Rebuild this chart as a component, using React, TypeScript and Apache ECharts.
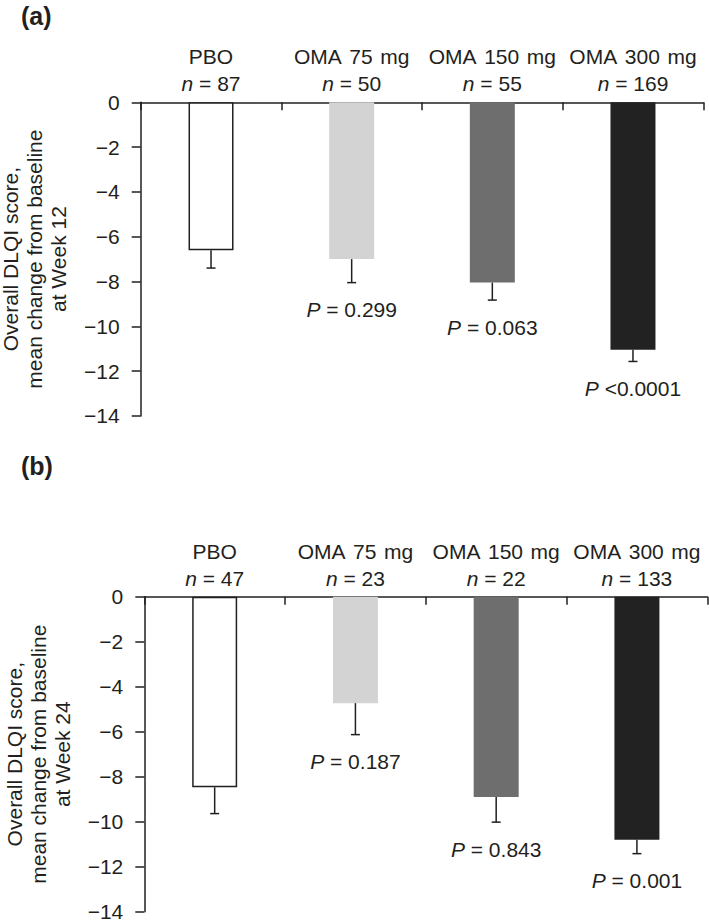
import React, { useEffect, useRef } from "react";
import * as echarts from "echarts";

const categories = ["PBO", "OMA 75 mg", "OMA 150 mg", "OMA 300 mg"];
const barColors = ["#ffffff", "#d3d3d3", "#6e6e6e", "#222222"];

const nA = [87, 50, 55, 169];
const meanA = [-6.6, -7.0, -8.05, -11.05];
const seA = [0.8, 1.05, 0.78, 0.52];
const pA = ["", "= 0.299", "= 0.063", "<0.0001"];

const nB = [47, 23, 22, 133];
const meanB = [-8.47, -4.73, -8.9, -10.8];
const seB = [1.17, 1.4, 1.12, 0.62];
const pB = ["", "= 0.187", "= 0.843", "= 0.001"];

const yTicksMin = -14;
const yTicksMax = 0;
const yInterval = 2;

const FONT = "'Liberation Sans', Arial, Helvetica, sans-serif";
const INK = "#231f20";
const FS = 21;

function xAxisFor(gridIndex: number, ns: number[]) {
  return {
    type: "category",
    gridIndex,
    position: "top",
    data: categories,
    boundaryGap: true,
    axisLine: { show: true, lineStyle: { color: INK, width: 1.5 } },
    axisTick: { show: true, inside: true, length: 8, alignWithLabel: false, lineStyle: { color: INK, width: 1.5 } },
    axisLabel: {
      interval: 0,
      margin: 5,
      fontFamily: FONT,
      fontSize: FS,
      color: INK,
      lineHeight: 27,
      formatter: (v: string, i: number) => `${v.replace(/ /g, "\u00a0\u200a")}\n{i|n} = ${ns[i]}`,
      rich: { i: { fontStyle: "italic", fontFamily: FONT, fontSize: FS, color: INK, lineHeight: 27 } },
    },
  };
}

function yAxisFor(gridIndex: number, week: number) {
  return {
    type: "value",
    gridIndex,
    min: yTicksMin,
    max: yTicksMax,
    interval: yInterval,
    splitLine: { show: false },
    axisLine: { show: true, lineStyle: { color: INK, width: 1.5 } },
    axisTick: { show: true, inside: false, length: 9, lineStyle: { color: INK, width: 1.5 } },
    axisLabel: {
      margin: 21,
      fontFamily: FONT,
      fontSize: FS,
      color: INK,
      formatter: (v: number) => (v < 0 ? "\u2212" + Math.abs(v) : String(v)),
    },
    name: `Overall DLQI score,\nmean change from baseline\nat Week ${week}`,
    nameLocation: "middle",
    nameRotate: 90,
    nameGap: 70,
    nameTextStyle: { fontFamily: FONT, fontSize: FS, color: INK, lineHeight: 24 },
  };
}

function barSeries(idx: number, means: number[]) {
  return {
    type: "bar",
    xAxisIndex: idx,
    yAxisIndex: idx,
    barWidth: 45,
    data: means.map((m, i) => ({
      value: m,
      itemStyle: {
        color: barColors[i],
        borderColor: i === 0 ? INK : barColors[i],
        borderWidth: i === 0 ? 1.5 : 0,
      },
    })),
  };
}

function errSeries(idx: number, means: number[], ses: number[], ps: string[]) {
  return {
    type: "custom",
    xAxisIndex: idx,
    yAxisIndex: idx,
    data: means.map((m, i) => [i, m, m - ses[i]]),
    renderItem: (params: any, api: any) => {
      const i = params.dataIndex;
      const top = api.coord([api.value(0), api.value(1)]);
      const bot = api.coord([api.value(0), api.value(2)]);
      const cap = 4.5;
      const children: any[] = [
        { type: "line", shape: { x1: top[0], y1: top[1], x2: bot[0], y2: bot[1] }, style: { stroke: INK, lineWidth: 1.5 } },
        { type: "line", shape: { x1: bot[0] - cap, y1: bot[1], x2: bot[0] + cap, y2: bot[1] }, style: { stroke: INK, lineWidth: 1.5 } },
      ];
      if (ps[i]) {
        children.push({
          type: "text",
          x: bot[0],
          y: bot[1] + 27,
          style: {
            text: `{i|P} ${ps[i]}`,
            fontFamily: FONT,
            fontSize: FS,
            fill: INK,
            align: "center",
            verticalAlign: "middle",
            rich: { i: { fontStyle: "italic", fontFamily: FONT, fontSize: FS, fill: INK, color: INK } },
          },
        });
      }
      return { type: "group", children };
    },
    z: 5,
  };
}

export default function App() {
  const ref = useRef<HTMLDivElement>(null);
  useEffect(() => {
    if (!ref.current) return;
    const chart = echarts.init(ref.current, undefined, { renderer: "svg" });
    chart.setOption({
      animation: false,
      backgroundColor: "#ffffff",
      grid: [
        { left: 140.7, top: 102.3, width: 562.6, height: 313.6, containLabel: false, outerBoundsMode: "none" },
        { left: 144.3, top: 596.7, width: 563, height: 315, containLabel: false, outerBoundsMode: "none" },
      ],
      xAxis: [xAxisFor(0, nA), xAxisFor(1, nB)],
      yAxis: [yAxisFor(0, 12), yAxisFor(1, 24)],
      series: [
        barSeries(0, meanA),
        errSeries(0, meanA, seA, pA),
        barSeries(1, meanB),
        errSeries(1, meanB, seB, pB),
      ],
      graphic: [
        { type: "text", left: 21, top: 3, style: { text: "(a)", fontFamily: FONT, fontSize: 25, fontWeight: "bold", fill: INK } },
        { type: "text", left: 21, top: 453, style: { text: "(b)", fontFamily: FONT, fontSize: 25, fontWeight: "bold", fill: INK } },
      ],
    });
    return () => chart.dispose();
  }, []);
  return (
    <div
      ref={ref}
      style={{ position: "absolute", left: 0, top: 0, width: 709, height: 923, background: "#fff" }}
    />
  );
}
